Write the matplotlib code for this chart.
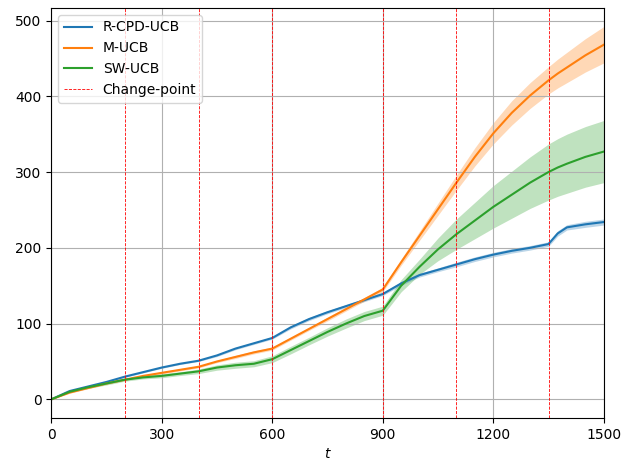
import numpy as np
import matplotlib.pyplot as plt

# ---- data ----
t = [0, 50, 100, 150, 200, 250, 300, 350, 400, 450, 500, 550, 600, 650, 700, 750,
     800, 850, 900, 950, 1000, 1050, 1100, 1150, 1200, 1250, 1300, 1350, 1375,
     1400, 1450, 1500]

rcpd_mean = [0, 11, 17, 23, 30, 36, 42, 47, 51, 58, 67, 74, 81, 95, 106, 115,
             123, 131, 139, 153, 164, 171, 178, 185, 191, 196, 200, 205, 219,
             227, 231, 234]
rcpd_err = [0, 1, 1, 1, 1, 1, 1, 1, 1, 1.5, 1.5, 1.5, 1.5, 2, 2, 2,
            2, 2, 2, 2.5, 2.5, 2.5, 3, 3, 3, 3, 3, 3, 3.5, 3.5, 4, 4]

mucb_mean = [0, 9, 15, 21, 26, 31, 35, 39, 43, 50, 56, 62, 67, 80, 93, 106,
             119, 132, 145, 181, 216, 251, 286, 320, 351, 378, 401, 421, 430,
             438, 454, 468]
mucb_err = [0, 1, 1, 1, 1, 1, 1.5, 1.5, 1.5, 1.5, 2, 2, 2, 2, 2, 2.5,
            2.5, 2.5, 3, 4, 6, 8, 10, 12, 14, 16, 17, 18, 19,
            20, 22, 24]

sw_mean = [0, 10, 16, 21, 26, 29, 31, 34, 37, 42, 45, 47, 53, 65, 77, 89,
           100, 110, 117, 150, 175, 198, 218, 236, 254, 270, 286, 300, 306,
           311, 320, 327]
sw_err = [0, 1, 1.5, 2, 2, 2, 2.5, 2.5, 3, 3.5, 4, 4, 4.5, 5, 5, 5.5,
          6, 6, 6, 8, 10, 15, 20, 24, 28, 31, 34, 37, 38, 39, 40, 41]

change_points = [200, 400, 600, 900, 1100, 1350]

series = [
    ("R-CPD-UCB", rcpd_mean, rcpd_err, "tab:blue"),
    ("M-UCB", mucb_mean, mucb_err, "tab:orange"),
    ("SW-UCB", sw_mean, sw_err, "tab:green"),
]

fig, ax = plt.subplots(figsize=(6.25, 4.66), dpi=100)
fig.subplots_adjust(left=0.082, right=0.966, bottom=0.103, top=0.983)

tt = np.array(t)
for name, m, e, c in series:
    m = np.array(m, dtype=float)
    e = np.array(e, dtype=float)
    ax.plot(tt, m, color=c, label=name, lw=1.5)
    ax.fill_between(tt, m - e, m + e, color=c, alpha=0.3, lw=0)

for i, cp in enumerate(change_points):
    ax.axvline(cp, color="red", ls="--", lw=0.6,
               label="Change-point" if i == 0 else None)

ax.set_xlim(0, 1500)
ax.set_xticks([0, 300, 600, 900, 1200, 1500])
ax.set_xlabel("$t$")
ax.grid(True)
ax.legend(loc="upper left")

fig.savefig("out.png", dpi=100)
